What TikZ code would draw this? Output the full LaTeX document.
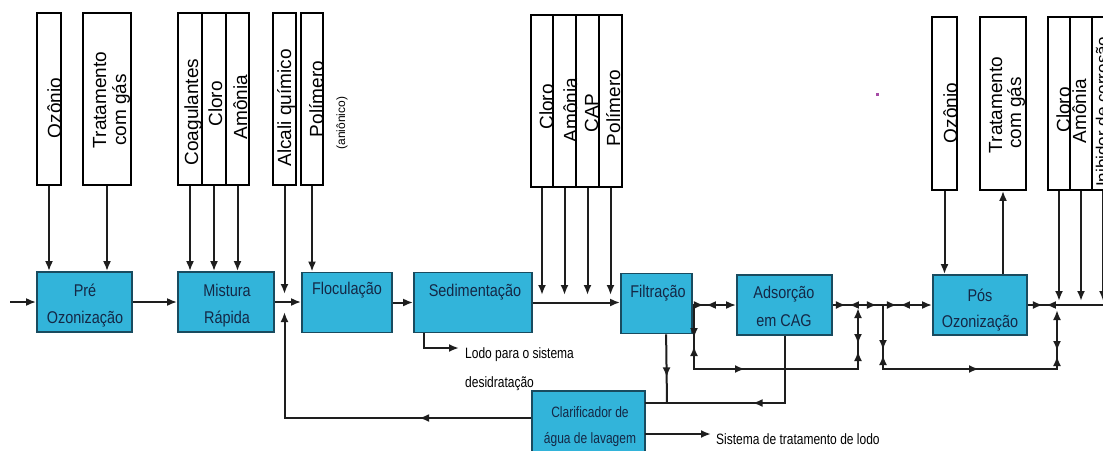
\documentclass[tikz,border=0pt]{standalone}
\usepackage{fontspec}
\setmainfont{Liberation Sans}
\newfontfamily\procfont[FakeStretch=0.85]{Liberation Sans}
\newfontfamily\smallnarrow[FakeStretch=0.8]{Liberation Sans}
\usetikzlibrary{arrows.meta,decorations.markings}
\definecolor{boxfill}{RGB}{50,180,218}
\definecolor{boxdraw}{RGB}{25,75,95}
\definecolor{boxtext}{RGB}{20,40,70}
\definecolor{linec}{RGB}{30,30,30}
\tikzset{
  >={Latex[length=10pt,width=8pt]},
  proc/.style={draw=boxdraw, fill=boxfill, line width=1.8pt, inner sep=0pt, minimum height=60pt},
  reag/.style={draw=black, line width=1.8pt, inner sep=0pt, fill=white},
  rtext/.style={rotate=90, anchor=base, inner sep=0pt, font=\fontsize{19}{22}\selectfont},
  plab/.style={font=\procfont\fontsize{17}{20}\selectfont, text=boxtext, inner sep=0pt},
  clab/.style={font=\smallnarrow\fontsize{15}{18}\selectfont, text=boxtext, inner sep=0pt},
  note/.style={font=\smallnarrow\fontsize{15}{18}\selectfont, text=black, inner sep=0pt, anchor=base west},
  flow/.style={draw=linec, line width=2pt},
  fwd/.style={postaction={decorate,decoration={markings,mark=at position #1 with {\arrow{>}}}}},
  bwd/.style={postaction={decorate,decoration={markings,mark=at position #1 with {\arrowreversed{>}}}}}
}
\begin{document}
\begin{tikzpicture}[x=1pt,y=-1pt]
\clip (0,0) rectangle (1103,450);
\fill[white] (0,0) rectangle (1103,450);

% ---------- reagent boxes, left group ----------
\node[reag, minimum width=24pt, minimum height=172pt] (oz1) at (49,99) {};
\node[reag, minimum width=48pt, minimum height=172pt] (tr1) at (107,99) {};
\node[reag, minimum width=24pt, minimum height=172pt] (coag) at (190,99) {};
\node[reag, minimum width=24pt, minimum height=172pt] (clo1) at (214,99) {};
\node[reag, minimum width=23pt, minimum height=172pt] (amo1) at (237.5,99) {};
\node[reag, minimum width=23pt, minimum height=172pt] (alc) at (284.5,99) {};
\node[reag, minimum width=22pt, minimum height=172pt] (pol1) at (312,99) {};

\node[rtext] (t-oz1) at (61,108) {Ozônio};
\node[rtext] (t-tr1a) at (106,100) {Tratamento};
\node[rtext] (t-tr1b) at (126,110) {com gás};
\node[rtext] (t-coag) at (198,112) {Coagulantes};
\node[rtext] (t-clo1) at (222,104) {Cloro};
\node[rtext] (t-amo1) at (247,107) {Amônia};
\node[rtext] (t-alc) at (291,108) {Alcali químico};
\node[rtext] (t-pol1) at (323,99) {Polímero};
\node[rtext, font=\fontsize{12}{14}\selectfont] (t-ani) at (345,123) {(aniônico)};

% ---------- reagent boxes, middle group ----------
\node[reag, minimum width=22pt, minimum height=172pt] (clo2) at (542,101) {};
\node[reag, minimum width=23pt, minimum height=172pt] (amo2) at (564.5,101) {};
\node[reag, minimum width=23pt, minimum height=172pt] (cap) at (587.5,101) {};
\node[reag, minimum width=23pt, minimum height=172pt] (pol2) at (610.5,101) {};
\node[rtext] (t-clo2) at (553,107) {Cloro};
\node[rtext] (t-amo2) at (577,110) {Amônia};
\node[rtext] (t-cap) at (598,113) {CAP};
\node[rtext] (t-pol2) at (620,108) {Polímero};

% ---------- reagent boxes, right group ----------
\node[reag, minimum width=25pt, minimum height=173pt] (oz2) at (944.5,103.5) {};
\node[reag, minimum width=46pt, minimum height=173pt] (tr2) at (1003,103.5) {};
\node[reag, minimum width=22pt, minimum height=173pt] (clo3) at (1059,103.5) {};
\node[reag, minimum width=22pt, minimum height=173pt] (amo3) at (1081,103.5) {};
\node[reag, minimum width=22pt, minimum height=173pt] (ini) at (1103,103.5) {};
\node[rtext] (t-oz2) at (957,113) {Ozônio};
\node[rtext] (t-tr2a) at (1002,105) {Tratamento};
\node[rtext] (t-tr2b) at (1021,113) {com gás};
\node[rtext] (t-clo3) at (1070,110) {Cloro};
\node[rtext] (t-amo3) at (1086,111) {Amônia};
\node[rtext, anchor=base west, font=\fontsize{17}{20}\selectfont] (t-ini) at (1108,187) {Inibidor de corrosão};

% ---------- process boxes ----------
\node[proc, minimum width=95pt] (pre) at (84.5,302) {};
\node[proc, minimum width=96pt] (mix) at (226,302) {};
\node[proc, minimum width=90pt] (floc) at (347,302.5) {};
\node[proc, minimum width=118pt] (sed) at (473,302.5) {};
\node[proc, minimum width=71pt] (filt) at (656.5,303.5) {};
\node[proc, minimum width=95pt] (ads) at (784.5,305) {};
\node[proc, minimum width=94pt] (pos) at (980,305) {};
\node[proc, minimum width=113pt, minimum height=62pt] (clar) at (588.5,422) {};

\node[plab] (l-pre1) at (85,290) {Pré};
\node[plab] (l-pre2) at (85,319) {Ozonização};
\node[plab] (l-mix1) at (227,290) {Mistura};
\node[plab] (l-mix2) at (227,319) {Rápida};
\node[plab] (l-floc) at (347,290) {Floculação};
\node[plab] (l-sed) at (475,292) {Sedimentação};
\node[plab] (l-filt) at (658,293) {Filtração};
\node[plab] (l-ads1) at (784,294) {Adsorção};
\node[plab] (l-ads2) at (784,321) {em CAG};
\node[plab] (l-pos1) at (980,295) {Pós};
\node[plab] (l-pos2) at (980,323) {Ozonização};
\node[clab] (l-clar1) at (590,412) {Clarificador de};
\node[clab] (l-clar2) at (590,440) {água de lavagem};

% ---------- notes ----------
\node[note] (n-lodo1) at (465,358) {Lodo para o sistema};
\node[note] (n-lodo2) at (465,387) {desidratação};
\node[note] (n-sis) at (716,444) {Sistema de tratamento de lodo};

% ---------- coordinates ----------
\coordinate (in) at (10,302);
\coordinate (jAlc) at (284.5,294);
\coordinate (jRet) at (284.5,312);
\coordinate (r2) at (284.5,418);
\coordinate (topS) at (580,295);
\coordinate (lodo) at (459,348);
\coordinate (b1) at (694,305);
\coordinate (b2) at (694,369);
\coordinate (b3) at (858,369);
\coordinate (b4) at (858,308);
\coordinate (c1) at (883,305);
\coordinate (c2) at (883,369);
\coordinate (c3) at (1057,369);
\coordinate (c4) at (1057,310);
\coordinate (outR) at (1110,305);
\coordinate (topR) at (1080,301);
\coordinate (fc) at (667,403);
\coordinate (clarIn) at (645,403);
\coordinate (sisY) at (645,434);
\coordinate (sis) at (711,434);

% ---------- connectors ----------
\draw[flow,->] (in) -- (pre);
\draw[flow,->] (oz1.south) -- (oz1.south |- pre.north);
\draw[flow,->] (tr1.south) -- (tr1.south |- pre.north);
\draw[flow,->] (coag.south) -- (coag.south |- mix.north);
\draw[flow,->] (clo1.south) -- (clo1.south |- mix.north);
\draw[flow,->] (amo1.south) -- (amo1.south |- mix.north);
\draw[flow,->] (pre) -- (mix);
\draw[flow,->] (mix.east) -- (mix.east -| floc.west);
\draw[flow,->] (alc.south) -- (jAlc);
\draw[flow,->] (pol1.south) -- (pol1.south |- floc.north);
\draw[flow,->,fwd=112pt] (clar.west |- r2) -- (r2) -- (jRet);
\draw[flow,->] (floc.east) -- (floc.east -| sed.west);
\draw[flow,->] (sed.east) -- (sed.east -| filt.west);
\draw[flow,->] (clo2.south) -- (clo2.south |- topS);
\draw[flow,->] (amo2.south) -- (amo2.south |- topS);
\draw[flow,->] (cap.south) -- (cap.south |- topS);
\draw[flow,->] (pol2.south) -- (pol2.south |- topS);
\draw[flow,->] ([xshift=11pt]sed.south west) |- (lodo);

\draw[flow,->,fwd=11pt,bwd=13pt] (filt.east |- ads.west) -- (ads.west);
\draw[flow,->,fwd=33pt,bwd=41pt,fwd=115pt,fwd=246pt,bwd=253pt] (b1) -- (b2) -- (b3) -- (b4);
\draw[flow,->,fwd=13pt,bwd=16pt,fwd=44pt,fwd=64pt,bwd=67pt] (ads.east) -- (pos.west);
\draw[flow,->,fwd=45pt,bwd=50pt,fwd=160pt,fwd=251pt,bwd=256pt] (c1) -- (c2) -- (c3) -- (c4);
\draw[flow,fwd=15pt,bwd=18pt] (pos.east) -- (outR);

\draw[flow,->] (oz2.south) -- (oz2.south |- pos.north);
\draw[flow,->] (tr2.south |- pos.north) -- (tr2.south);
\draw[flow,->] (clo3.south) -- (clo3.south |- topR);
\draw[flow,->] (amo3.south) -- (amo3.south |- topR);
\draw[flow,->] (ini.south) -- (ini.south |- topR);

\draw[flow,fwd=43pt] ([xshift=46pt]filt.south west) -- (fc);
\draw[flow,fwd=99pt] (ads.south) |- (clarIn);
\draw[flow,->] (sisY) -- (sis);

\fill[violet!70] (876,93) rectangle (879,96);
\end{tikzpicture}
\end{document}
